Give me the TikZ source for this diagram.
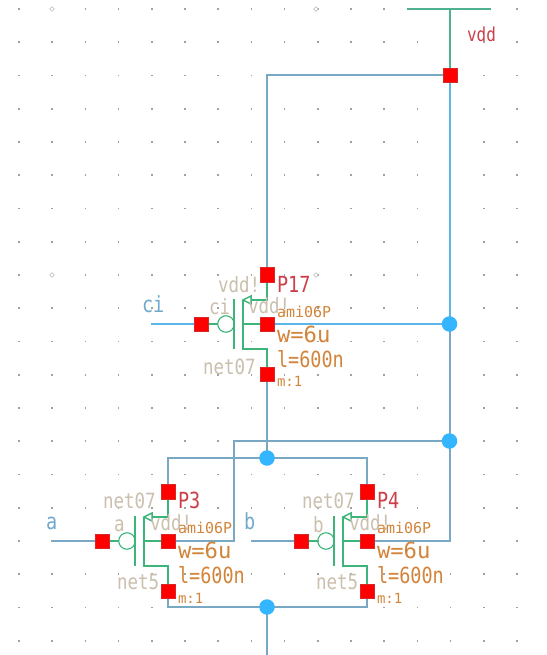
\documentclass[tikz,border=0pt]{standalone}
\usepackage{fontspec}
\setmainfont{DejaVu Sans Mono}
\usetikzlibrary{shapes.geometric}
\definecolor{wireblue}{HTML}{78A8C4}
\definecolor{brightwire}{HTML}{5CB6E8}
\definecolor{junc}{HTML}{33B5FF}
\definecolor{symgreen}{HTML}{3DB57A}
\definecolor{tan}{HTML}{CBBFAE}
\definecolor{orangetxt}{HTML}{D2853A}
\definecolor{redtxt}{HTML}{CC3F48}
\definecolor{pinblue}{HTML}{6FA9CC}
\definecolor{griddot}{HTML}{A0A0A0}
\pgfdeclarelayer{gridlayer}
\pgfdeclarelayer{wirelayer}
\pgfsetlayers{gridlayer,wirelayer,main}
\newcommand{\fs}[1]{\fontsize{#1}{#1}\selectfont}
\newcommand{\tall}[1]{\scalebox{1}[1.2]{#1}}
\newcommand{\wide}[1]{\scalebox{1.2}[1.2]{#1}}
\tikzset{
  pad/.style={draw=red!70!gray,line width=0.3pt,fill=red,minimum size=14.5pt,inner sep=0pt,outer sep=0pt},
  junction/.style={circle,fill=junc,minimum size=15.5pt,inner sep=0pt,outer sep=0pt},
  bubble/.style={circle,draw=symgreen,line width=1.1pt,minimum size=16.5pt,inner sep=0pt,outer sep=0pt},
  wire/.style={draw=wireblue,line width=2pt},
  wirehi/.style={draw=brightwire,line width=2pt},
  vddrail/.style={draw=symgreen!70!wireblue,line width=2pt},
  sym/.style={draw=symgreen,line width=1.5pt},
  lab/.style={anchor=base west,inner sep=0pt,outer sep=0pt},
  tantext/.style={lab,text=tan,font=\fs{17.5}},
  redtext/.style={lab,text=redtxt,font=\fs{18.5}},
  pintext/.style={lab,text=pinblue,font=\fs{18.5}},
  orgtext/.style={lab,text=orangetxt,font=\fs{18.5}},
  amitext/.style={lab,text=orangetxt,font=\fs{15}},
  mtext/.style={lab,text=orangetxt,font=\fs{14}},
}
\begin{document}
\begin{tikzpicture}[x=1pt,y=-1pt]
\useasboundingbox (0,0) rectangle (546,655);
\begin{pgfonlayer}{gridlayer}
\fill[white] (0,0) rectangle (546,655);
\foreach \i in {0,...,15}{\foreach \j in {0,...,19}{
  \fill[griddot] ({19+33.2*\i-0.8},{9+33.25*\j-0.8}) rectangle ++(1.6,1.6);
}}
\foreach \dx/\dy in {52/9,316/9,52/275,316/275}{
  \node[diamond,draw=griddot,fill=white,line width=0.4pt,minimum size=5pt,inner sep=0pt] at (\dx,\dy) {};
}
\end{pgfonlayer}

% transistors
\foreach \n/\cx/\cy in {c/267/324,a/168/541,b/367/541}{
  \node[pad] (top\n) at (\cx,\cy-49.5) {};
  \node[pad] (bot\n) at (\cx,\cy+50) {};
  \node[pad] (mid\n) at (\cx,\cy) {};
  \node[pad] (gate\n) at (\cx-66,\cy) {};
  \node[bubble] (bub\n) at (\cx-41,\cy) {};
  \coordinate (dr\n) at (\cx,\cy-24);
  \coordinate (so\n) at (\cx,\cy+25);
  \coordinate (chT\n) at (\cx-24,\cy-24);
  \coordinate (chB\n) at (\cx-24,\cy+25);
  \coordinate (chM\n) at (\cx-24,\cy);
  \coordinate (arB\n) at (\cx-16,\cy-24);
  \coordinate (barT\n) at (\cx-33,\cy-25);
  \coordinate (barB\n) at (\cx-33,\cy+25);
  \begin{pgfonlayer}{wirelayer}
  \draw[sym] (top\n.center) -- (dr\n) -- (arB\n);
  \draw[sym] (chT\n) -- (chB\n) -- (so\n) -- (bot\n.center);
  \draw[sym] (chM\n) -- (mid\n.center);
  \draw[sym] (barT\n) -- (barB\n);
  \draw[sym] (gate\n.center) -- (bub\n);
  \draw[sym,fill=white,line join=miter] (chT\n) -- (\cx-16,\cy-28) -- (\cx-16,\cy-20) -- cycle;
  \end{pgfonlayer}
}

\node[pad] (vddpad) at (450,75) {};
\node[junction] (jci) at (449.5,324) {};
\node[junction] (jmid) at (449.5,441) {};
\node[junction] (jtop) at (267,458) {};
\node[junction] (jbot) at (267,607) {};
\coordinate (vl) at (407,9);
\coordinate (vr) at (491,9);
\coordinate (vt) at (449.5,9);
\coordinate (vb) at (449.5,75);
\coordinate (c1) at (267,75);
\coordinate (c2) at (234,441);
\coordinate (c3) at (234,541);
\coordinate (c4) at (168,458);
\coordinate (c5) at (367,458);
\coordinate (c6) at (168,607);
\coordinate (c7) at (367,607);
\coordinate (c8) at (449.5,541);
\coordinate (botend) at (267,655);
\coordinate (ciend) at (151,324);
\coordinate (aend) at (52,541);
\coordinate (bend) at (251,541);

\begin{pgfonlayer}{wirelayer}
\draw[vddrail] (vl) -- (vr);
\draw[vddrail] (vt) -- (vb);
\draw[wire,line join=miter] (vddpad.center) -- (c1) -- (topc.center);
\draw[wirehi] (vb) -- (jci.center);
\draw[wirehi] (midc.center) -- (jci.center);
\draw[wire] (jci.center) -- (jmid.center);
\draw[wire,line join=miter] (jmid.center) -- (c8) -- (midb.center);
\draw[wire,line join=miter] (jmid.center) -- (c2) -- (c3) -- (mida.center);
\draw[wirehi] (ciend) -- (gatec.center);
\draw[wire] (botc.center) -- (jtop.center);
\draw[wire,line join=miter] (topa.center) -- (c4) -- (jtop.center);
\draw[wire,line join=miter] (topb.center) -- (c5) -- (jtop.center);
\draw[wire,line join=miter] (bota.center) -- (c6) -- (jbot.center);
\draw[wire,line join=miter] (botb.center) -- (c7) -- (jbot.center);
\draw[wire] (jbot.center) -- (botend);
\draw[wire] (aend) -- (gatea.center);
\draw[wire] (bend) -- (gateb.center);
\end{pgfonlayer}

\node[lab,text=redtxt,font=\fs{16}] (tvdd) at (467,42) {\tall{vdd}};

% ci device
\node[pintext] (pci) at (142,312) {\tall{ci}};
\node[tantext] (t1) at (218,292) {\tall{vdd!}};
\node[redtext] (t2) at (277,292) {\tall{P17}};
\node[tantext] (t3) at (209,314) {\tall{ci}};
\node[tantext] (t4) at (248,313) {\tall{vdd!}};
\node[amitext] (t5) at (277,317) {ami06P};
\node[orgtext] (t6) at (277,342) {\wide{w=6u}};
\node[orgtext] (t7) at (277,367) {\tall{l=600n}};
\node[mtext] (t8) at (277,386) {m:1};
\node[tantext] (t9) at (203,374) {\tall{net07}};

% a device
\node[pintext] (pa) at (46,529) {\tall{a}};
\node[tantext] (a1) at (103,508) {\tall{net07}};
\node[redtext] (a2) at (178,508) {\tall{P3}};
\node[tantext] (a3) at (114,531) {\tall{a}};
\node[tantext] (a4) at (150,530) {\tall{vdd!}};
\node[amitext] (a5) at (178,533) {ami06P};
\node[orgtext] (a6) at (178,558) {\wide{w=6u}};
\node[orgtext] (a7) at (178,583) {\tall{l=600n}};
\node[mtext] (a8) at (178,603) {m:1};
\node[tantext] (a9) at (117,589) {\tall{net5}};

% b device
\node[pintext] (pb) at (244,529) {\tall{b}};
\node[tantext] (b1) at (302,508) {\tall{net07}};
\node[redtext] (b2) at (377,508) {\tall{P4}};
\node[tantext] (b3) at (313,532) {\tall{b}};
\node[tantext] (b4) at (349,530) {\tall{vdd!}};
\node[amitext] (b5) at (377,533) {ami06P};
\node[orgtext] (b6) at (377,558) {\wide{w=6u}};
\node[orgtext] (b7) at (377,583) {\tall{l=600n}};
\node[mtext] (b8) at (377,603) {m:1};
\node[tantext] (b9) at (316,589) {\tall{net5}};
\end{tikzpicture}
\end{document}
